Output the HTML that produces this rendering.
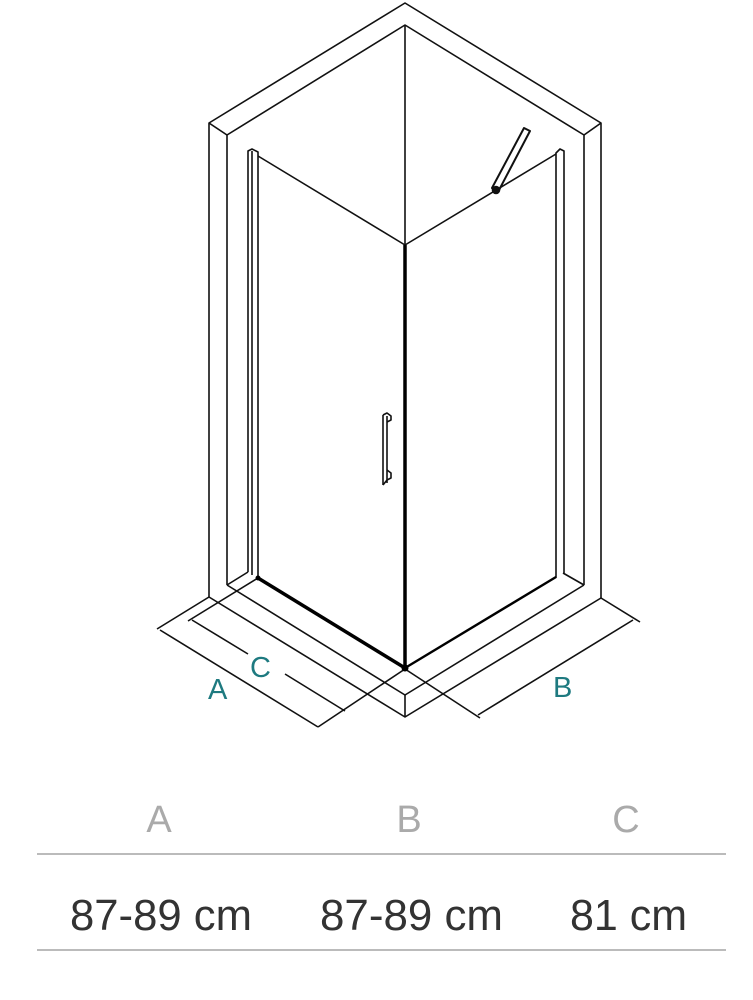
<!DOCTYPE html>
<html><head><meta charset="utf-8"><style>
html,body{margin:0;padding:0;background:#fff;width:753px;height:1000px;overflow:hidden}
svg{display:block}
</style></head><body>
<svg width="753" height="1000" viewBox="0 0 753 1000" xmlns="http://www.w3.org/2000/svg">
<g stroke="#111" stroke-width="1.6" fill="none" stroke-linejoin="round">
<polyline points="209,597 209,123 405,3 601,123 601,598"/>
<polyline points="227,585 227,135 405,25 584,135 584,585"/>
<line x1="209" y1="123" x2="227" y2="135"/>
<line x1="601" y1="123" x2="584" y2="135"/>
<line x1="405" y1="25" x2="405" y2="245"/>
<polyline points="209,597 405,717 601,598"/>
<polyline points="227,585 405,695 584,585"/>
<line x1="405" y1="695" x2="405" y2="717"/>
<line x1="248" y1="572" x2="227" y2="585"/>
<line x1="563" y1="573" x2="584" y2="585"/>
<polyline points="248,572 248,151 252,149 258,152 258,578"/>
<polyline points="556,578 556,153 560,149 564,151 564,573"/>
<line x1="252" y1="151" x2="252" y2="575"/>
<line x1="258" y1="156" x2="405" y2="245"/>
<line x1="405" y1="245" x2="556" y2="154"/>
<polygon points="492,188 524,128 530,131 498,192" stroke-width="2"/>
<circle cx="496" cy="190" r="3.5" fill="#111"/>
<polyline points="383,415 387,413 391,416 391,420 387,422"/>
<line x1="383" y1="415" x2="383" y2="485"/>
<line x1="387" y1="416" x2="387" y2="483"/>
<polyline points="387,470 391,473 391,478 387,480 383,485"/>
<line x1="209" y1="597" x2="157" y2="629"/>
<line x1="258" y1="578" x2="188" y2="621"/>
<line x1="405" y1="669" x2="318" y2="727"/>
<line x1="405" y1="669" x2="480" y2="718"/>
<line x1="601" y1="598" x2="640" y2="622"/>
<line x1="160" y1="630" x2="318" y2="727"/>
<line x1="192" y1="620" x2="248" y2="654"/>
<line x1="285" y1="674" x2="345" y2="711"/>
<line x1="478" y1="715" x2="633" y2="620"/>
</g>
<g stroke="#000" stroke-width="3.5">
<line x1="405" y1="245" x2="405" y2="668"/>
<line x1="258" y1="578" x2="405" y2="668"/>
</g>
<line x1="405" y1="668" x2="556" y2="577" stroke="#000" stroke-width="2.4"/>
<circle cx="405" cy="668" r="3.5" fill="#000"/>
<circle cx="258" cy="578" r="2.5" fill="#000"/>
<g font-family="Liberation Sans, sans-serif" fill="#1e7a80" font-size="29">
<text x="208" y="699">A</text>
<text x="250" y="677">C</text>
<text x="553" y="697">B</text>
</g>
<line x1="37" y1="854" x2="726" y2="854" stroke="#bbb" stroke-width="2"/>
<line x1="37" y1="950" x2="726" y2="950" stroke="#bbb" stroke-width="2"/>
<g font-family="Liberation Sans, sans-serif" fill="#aaa" font-size="38" text-anchor="middle">
<text x="159" y="832">A</text>
<text x="409" y="832">B</text>
<text x="626" y="832">C</text>
</g>
<g font-family="Liberation Sans, sans-serif" fill="#333" font-size="44">
<text x="70" y="930" textLength="182" lengthAdjust="spacingAndGlyphs">87-89 cm</text>
<text x="320" y="930" textLength="183" lengthAdjust="spacingAndGlyphs">87-89 cm</text>
<text x="570" y="930" textLength="117" lengthAdjust="spacingAndGlyphs">81 cm</text>
</g>
</svg>
</body></html>
